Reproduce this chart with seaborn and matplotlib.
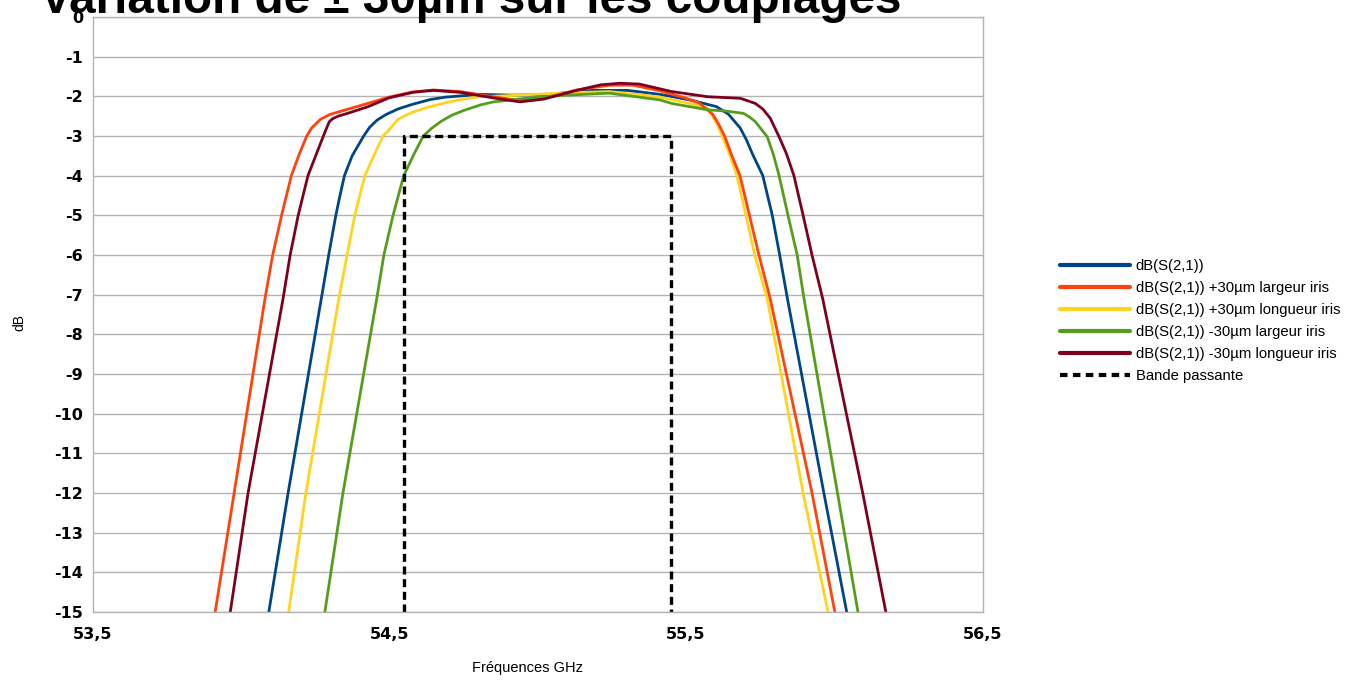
import matplotlib
matplotlib.use("Agg")
import matplotlib.pyplot as plt
from matplotlib.lines import Line2D
import seaborn as sns
import pandas as pd

# ---- data ----
f_ref = [54.093, 54.158, 54.270, 54.295, 54.319, 54.333, 54.348, 54.374, 54.413, 54.433, 54.458, 54.488,
         54.528, 54.578, 54.638, 54.689, 54.805, 54.91, 55.02, 55.181, 55.302, 55.412, 55.513, 55.603,
         55.643, 55.683, 55.704, 55.724, 55.759, 55.791, 55.816, 55.842, 55.965, 56.042]
db_ref = [-15, -12, -7.1, -6, -5, -4.5, -4, -3.5, -3.0, -2.78, -2.6, -2.46,
          -2.32, -2.2, -2.08, -2.02, -1.95, -1.97, -1.96, -1.85, -1.85, -1.95, -2.09, -2.26,
          -2.45, -2.8, -3.1, -3.45, -4.0, -5.0, -6.0, -7.1, -12, -15]

f_lw_p = [53.912, 53.976, 54.08, 54.106, 54.136, 54.169, 54.196, 54.221, 54.237, 54.267, 54.298, 54.334,
          54.408, 54.498, 54.578, 54.648, 54.739, 54.85, 54.94, 55.02, 55.131, 55.241, 55.322, 55.412,
          55.493, 55.543, 55.59, 55.61, 55.63, 55.655, 55.682, 55.714, 55.746, 55.784, 55.925, 56.002]
db_lw_p = [-15, -12, -7.1, -6, -5, -4, -3.45, -3.0, -2.8, -2.58, -2.46, -2.38,
           -2.22, -2.02, -1.89, -1.84, -1.88, -2.01, -2.11, -2.05, -1.84, -1.72, -1.72, -1.86,
           -2.03, -2.16, -2.45, -2.7, -3.0, -3.5, -4.0, -5.0, -6.0, -7.1, -12, -15]

f_ll_p = [54.16, 54.218, 54.329, 54.357, 54.383, 54.417, 54.447, 54.478, 54.498, 54.528, 54.578, 54.628,
          54.689, 54.749, 54.805, 54.91, 55.071, 55.241, 55.412, 55.513, 55.573, 55.585, 55.605, 55.622,
          55.649, 55.672, 55.702, 55.732, 55.774, 55.895, 55.979]
db_ll_p = [-15, -12, -7.1, -6, -5, -4, -3.5, -3.0, -2.85, -2.58, -2.4, -2.28,
           -2.16, -2.07, -2.01, -1.98, -1.92, -1.88, -2.02, -2.18, -2.3, -2.45, -2.7, -3.0,
           -3.5, -4.0, -5.0, -6.0, -7.1, -12, -15]

f_lw_m = [54.282, 54.343, 54.457, 54.481, 54.512, 54.548, 54.583, 54.614, 54.643, 54.674, 54.709, 54.749,
          54.805, 54.85, 54.96, 55.071, 55.241, 55.412, 55.452, 55.573, 55.634, 55.694, 55.714, 55.734,
          55.774, 55.794, 55.814, 55.844, 55.875, 55.898, 56.011, 56.08]
db_lw_m = [-15, -12, -7.1, -6, -5, -4, -3.45, -3.0, -2.8, -2.63, -2.48, -2.36,
           -2.22, -2.14, -2.05, -1.98, -1.92, -2.09, -2.18, -2.34, -2.37, -2.43, -2.52, -2.64,
           -3.02, -3.45, -4.0, -5.0, -6.0, -7.1, -12, -15]

f_ll_m = [53.963, 54.023, 54.141, 54.165, 54.192, 54.225, 54.252, 54.277, 54.285, 54.297, 54.307, 54.327,
          54.358, 54.428, 54.498, 54.578, 54.648, 54.739, 54.85, 54.94, 55.02, 55.131, 55.212, 55.277,
          55.342, 55.452, 55.573, 55.684, 55.734, 55.759, 55.784, 55.814, 55.839, 55.864, 55.895, 55.925,
          55.961, 56.096, 56.174]
db_ll_m = [-15, -12, -7.1, -6, -5, -4, -3.48, -3.0, -2.85, -2.64, -2.57, -2.5,
           -2.43, -2.26, -2.04, -1.9, -1.85, -1.9, -2.04, -2.14, -2.07, -1.85, -1.71, -1.67,
           -1.69, -1.88, -2.01, -2.05, -2.18, -2.32, -2.55, -3.02, -3.45, -4.0, -5.0, -6.0,
           -7.1, -12, -15]

band_f = [54.55, 54.55, 55.45, 55.45]
band_db = [-15, -3, -3, -15]

series_names = ["dB(S(2,1))",
                "dB(S(2,1)) +30µm largeur iris",
                "dB(S(2,1)) +30µm longueur iris",
                "dB(S(2,1)) -30µm largeur iris",
                "dB(S(2,1)) -30µm longueur iris"]
band_name = "Bande passante"
series_colors = ["#004586", "#ff420e", "#ffd320", "#579d1c", "#7e0021"]
draw_order = [0, 2, 1, 3, 4]

x_ticks = [53.5, 54.5, 55.5, 56.5]
x_tick_labels = ["53,5", "54,5", "55,5", "56,5"]
y_ticks = list(range(0, -16, -1))

title = "Variation de ± 30µm sur les couplages"
x_label = "Fréquences GHz"
y_label = "dB"

# ---- build long table ----
all_f = [f_ref, f_lw_p, f_ll_p, f_lw_m, f_ll_m]
all_db = [db_ref, db_lw_p, db_ll_p, db_lw_m, db_ll_m]
frames = []
for name, fs, ds in zip(series_names, all_f, all_db):
    frames.append(pd.DataFrame({"f": fs, "dB": ds, "serie": name}))
df = pd.concat(frames, ignore_index=True)
band_df = pd.DataFrame({"f": band_f, "dB": band_db})

sns.set_theme(style="white")
plt.rcParams["font.family"] = ["Liberation Sans", "DejaVu Sans"]
for k in ["text.color", "axes.labelcolor", "xtick.color", "ytick.color"]:
    plt.rcParams[k] = "black"

fig = plt.figure(figsize=(13.61, 6.80), dpi=100)
ax = fig.add_axes([93 / 1361, 1 - 612 / 680, (982.5 - 93) / 1361, (612 - 17) / 680])

for i in draw_order:
    name, col = series_names[i], series_colors[i]
    sns.lineplot(data=df[df["serie"] == name], x="f", y="dB", color=col, linewidth=2.0,
                 estimator=None, sort=True, ax=ax, legend=False)

sns.lineplot(data=band_df, x="f", y="dB", estimator=None, sort=False,
             color="black", linewidth=2.4, ax=ax, legend=False)
ax.lines[-1].set_dashes((2.4, 1.4))

ax.set_xlim(53.5, 56.5)
ax.set_ylim(-15, 0)
ax.set_xticks(x_ticks)
ax.set_xticklabels(x_tick_labels, fontsize=11.5, fontweight="bold", family="DejaVu Sans")
ax.set_yticks(y_ticks)
ax.set_yticklabels([str(v) for v in y_ticks], fontsize=11.5, fontweight="bold", family="DejaVu Sans")
ax.yaxis.grid(True, color="#b3b3b3", linewidth=1.0)
ax.xaxis.grid(False)
ax.set_axisbelow(True)
for sp in ax.spines.values():
    sp.set_color("#b3b3b3")
    sp.set_linewidth(1.0)
ax.tick_params(axis="both", which="both", length=5, width=1, color="#b3b3b3",
               labelcolor="black", pad=2)
ax.tick_params(axis="x", pad=6)

ax.set_xlabel(x_label, fontsize=10.5)
ax.xaxis.set_label_coords(0.489, -0.094)
ax.xaxis.label.set_va("center")
ax.set_ylabel(y_label, fontsize=10)
ax.yaxis.set_label_coords(-0.083, 0.486)
ax.yaxis.label.set_va("center")

fig.text(40 / 1361, 1 - 13 / 680, title, fontsize=34.3, fontweight="bold",
         ha="left", va="baseline", color="black")

handles = [Line2D([0], [0], color=c, linewidth=3) for c in series_colors]
handles.append(Line2D([0], [0], color="black", linewidth=3, dashes=(1.8, 1.3)))
labels = series_names + [band_name]
fig.legend(handles, labels, loc="upper left", bbox_to_anchor=(1054 / 1361, 1 - 253 / 680),
           frameon=False, fontsize=10.7, handlelength=4.7, handletextpad=0.4,
           labelspacing=0.54, borderaxespad=0)

fig.savefig("out.png", dpi=100)
